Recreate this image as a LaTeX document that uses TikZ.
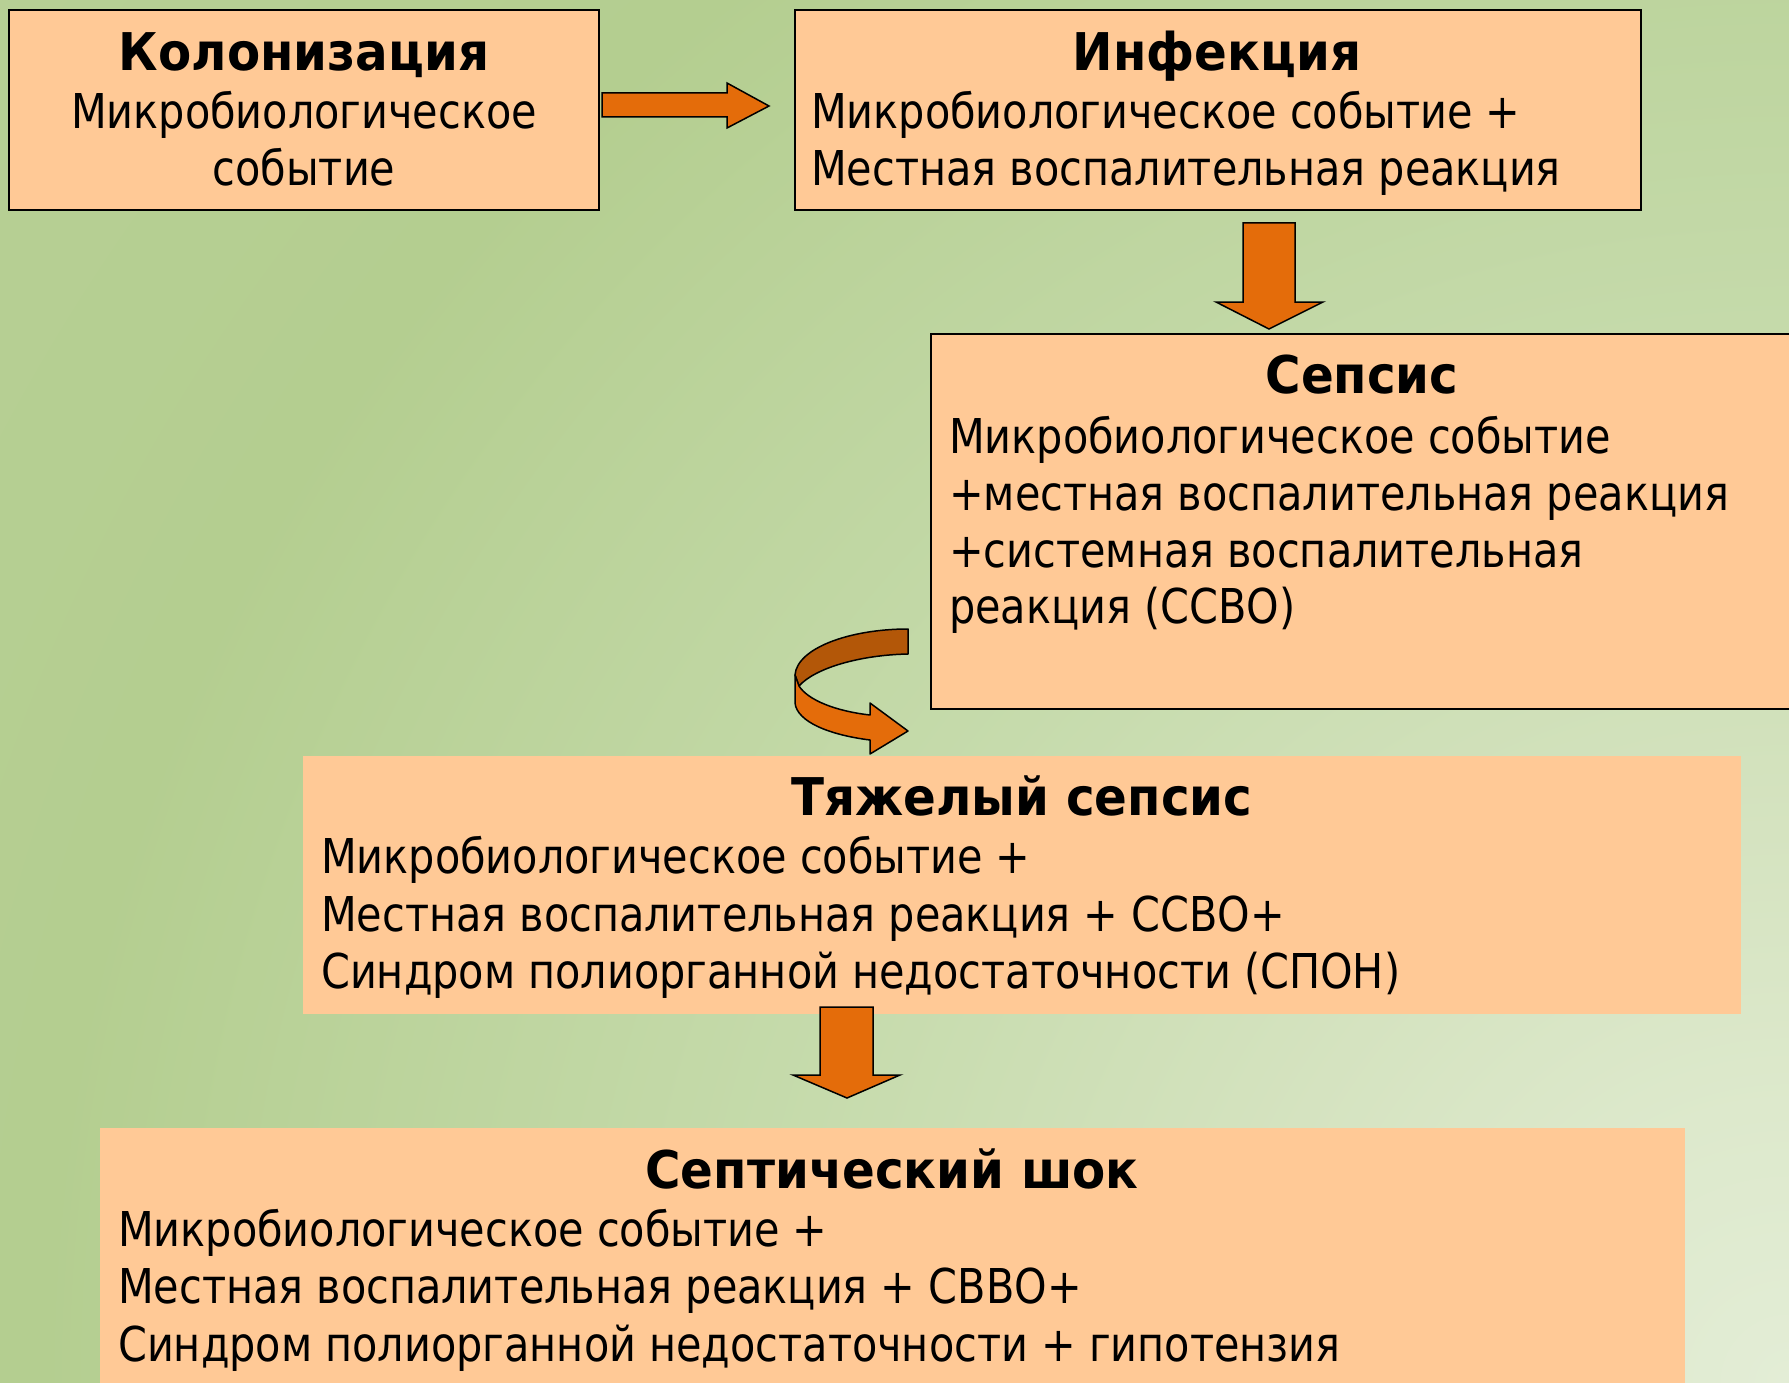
\documentclass[tikz,border=0pt]{standalone}
\usepackage{fontspec}
\setmainfont{DejaVu Sans}[FakeStretch=0.862]
\newfontfamily\titlefont{DejaVu Sans}[FakeStretch=0.93]
\definecolor{boxfill}{HTML}{FFC996}
\definecolor{arrowor}{HTML}{E46C0A}
\definecolor{arrowdk}{HTML}{B35708}
\definecolor{bgA}{HTML}{E3EDD6}
\definecolor{bgB}{HTML}{DDE9CC}
\definecolor{bgC}{HTML}{D5E3C0}
\definecolor{bgD}{HTML}{C6DBAC}
\definecolor{bgE}{HTML}{B4CE90}
\definecolor{bgF}{HTML}{B7D095}
\pgfdeclareradialshading{bgshade}{\pgfpoint{0bp}{0bp}}{color(0bp)=(bgA); color(3bp)=(bgB); color(6bp)=(bgC); color(11bp)=(bgD); color(19bp)=(bgE); color(25bp)=(bgF); color(50bp)=(bgF)}
\tikzset{
  box/.style={rectangle, draw=black, line width=2pt, fill=boxfill, inner sep=0pt, outer sep=0pt, anchor=north west},
  plainbox/.style={rectangle, fill=boxfill, inner sep=0pt, outer sep=0pt, anchor=north west},
  txt/.style={inner sep=0pt, font=\fontsize{48}{57}\selectfont},
  ttl/.style={inner sep=0pt, font=\titlefont\bfseries\fontsize{52}{60}\selectfont},
  blockarrow/.style={draw=black, line width=1.5pt, line join=miter, fill=arrowor},
  backarrow/.style={draw=black, line width=1.5pt, line join=round, fill=arrowdk},
}
\begin{document}
\begin{tikzpicture}[x=1pt,y=-1pt]
\useasboundingbox (0,0) rectangle (1789,1383);
\begin{scope}
\clip (0,0) rectangle (1789,1383);
\shade[shading=bgshade] (1789,1383) circle (2300pt);
\end{scope}

% boxes
\node[box, minimum width=590pt, minimum height=200pt] (kol) at (9,10) {};
\node[box, minimum width=846pt, minimum height=200pt] (inf) at (795,10) {};
\node[box, minimum width=870pt, minimum height=375pt] (sep) at (931,334) {};
\node[plainbox, minimum width=1438pt, minimum height=258pt] (tsep) at (303,756) {};
\node[plainbox, minimum width=1585pt, minimum height=270pt] (shock) at (100,1128) {};

% texts box 1
\node[ttl, anchor=base] (kol-t) at (304,71) {Колонизация};
\node[txt, anchor=base] (kol-1) at (304,129) {Микробиологическое};
\node[txt, anchor=base] (kol-2) at (304,186) {событие};

% box 2
\node[ttl, anchor=base] (inf-t) at (1217,71) {Инфекция};
\node[txt, anchor=base west] (inf-1) at (811,129) {Микробиологическое событие +};
\node[txt, anchor=base west] (inf-2) at (811,186) {Местная воспалительная реакция};

% box 3
\node[ttl, anchor=base] (sep-t) at (1362,393) {Сепсис};
\node[txt, anchor=base west] (sep-1) at (949,453) {Микробиологическое событие};
\node[txt, anchor=base west] (sep-2) at (949,510) {+местная воспалительная реакция};
\node[txt, anchor=base west] (sep-3) at (949,567) {+системная воспалительная};
\node[txt, anchor=base west] (sep-4) at (949,623) {реакция (ССВО)};

% box 4
\node[ttl, anchor=base] (tsep-t) at (1022,815) {Тяжелый сепсис};
\node[txt, anchor=base west] (tsep-1) at (321,873) {Микробиологическое событие +};
\node[txt, anchor=base west] (tsep-2) at (321,931) {Местная воспалительная реакция + ССВО+};
\node[txt, anchor=base west] (tsep-3) at (321,988) {Синдром полиорганной недостаточности (СПОН)};

% box 5
\node[ttl, anchor=base] (shock-t) at (892,1188) {Септический шок};
\node[txt, anchor=base west] (shock-1) at (118,1246) {Микробиологическое событие +};
\node[txt, anchor=base west] (shock-2) at (118,1303) {Местная воспалительная реакция + СВВО+};
\node[txt, anchor=base west] (shock-3) at (118,1361) {Синдром полиорганной недостаточности + гипотензия};

% arrows
\draw[blockarrow] (602,93) -- (727,93) -- (727,83) -- (769,106) -- (727,128) -- (727,117) -- (602,117) -- cycle;
\draw[blockarrow] (1243,223) -- (1295,223) -- (1295,302) -- (1323,302) -- (1269,329) -- (1216,302) -- (1243,302) -- cycle;
\draw[blockarrow] (820,1007) -- (873,1007) -- (873,1075) -- (900,1075) -- (847,1098) -- (793,1075) -- (820,1075) -- cycle;

% curved arrow
\draw[backarrow] (908,629) .. controls (850,629) and (797,648) .. (795,675) -- (799,686) .. controls (815,668) and (860,655) .. (908,654) -- cycle;
\draw[blockarrow, line join=round] (795,675) -- (795,703) .. controls (797,722) and (830,735) .. (870,740) -- (870,754) -- (908,731) -- (870,703) -- (870,715) .. controls (835,711) and (808,700) .. (799,686) -- cycle;
\end{tikzpicture}
\end{document}
